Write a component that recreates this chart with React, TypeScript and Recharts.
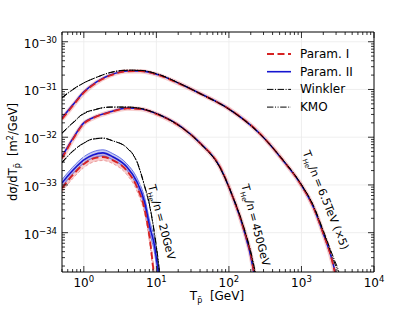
import React from "react";
import { ComposedChart, Line, Area, XAxis, YAxis, ReferenceLine } from "recharts";

// T_He/n = 20 GeV
const t20 = [0.5, 0.7, 1, 1.33, 1.83, 2.5, 3.9, 5.4, 6.9, 8.1, 9.5, 10.5, 11.5];
const paramI20 = [8.5e-34, 1.6e-33, 2.75e-33, 3.55e-33, 3.85e-33, 3.3e-33, 2.0e-33, 9.0e-34, 3.0e-34, 7.5e-35, 1.0e-35, 4e-36, 1e-36];
const paramI20Hi = [1.0e-33, 1.9e-33, 3.25e-33, 4.2e-33, 4.55e-33, 3.9e-33, 2.4e-33, 1.08e-33, 3.7e-34, 9.5e-35, 1.4e-35, 5.5e-36, 1.5e-36];
const paramI20Lo = [7.2e-34, 1.35e-33, 2.3e-33, 3.0e-33, 3.25e-33, 2.8e-33, 1.65e-33, 7.4e-34, 2.4e-34, 5.8e-35, 7e-36, 2.8e-36, 7e-37];
const paramII20 = [1.1e-33, 2.0e-33, 3.35e-33, 4.25e-33, 4.7e-33, 3.9e-33, 2.4e-33, 1.16e-33, 4.3e-34, 1.33e-34, 5.0e-35, 1.65e-35, 5e-36];
const paramII20Hi = [1.3e-33, 2.35e-33, 3.9e-33, 4.95e-33, 5.45e-33, 4.55e-33, 2.8e-33, 1.4e-33, 5.4e-34, 1.75e-34, 7e-35, 2.5e-35, 8e-36];
const paramII20Lo = [9.2e-34, 1.7e-33, 2.85e-33, 3.65e-33, 4.05e-33, 3.35e-33, 2.05e-33, 9.5e-34, 3.4e-34, 1.0e-34, 3.5e-35, 1.1e-35, 3e-36];
const winkler20 = [3.0e-33, 5.1e-33, 7.6e-33, 9.2e-33, 9.6e-33, 8.4e-33, 6.0e-33, 3.0e-33, 9.1e-34, 3.5e-34, 8.5e-35, 2.7e-35, 8e-36];
const kmo20 = [2.9e-33, 5.0e-33, 7.5e-33, 9.1e-33, 9.5e-33, 8.4e-33, 6.1e-33, 3.1e-33, 9.5e-34, 3.7e-34, 9e-35, 3e-35, 9e-36];

// T_He/n = 450 GeV
const t450 = [0.5, 0.7, 1, 1.33, 2.3, 4, 6, 11, 23, 40, 75, 113, 156, 214, 240];
const paramI450 = [3.6e-33, 8.8e-33, 1.93e-32, 2.5e-32, 3.35e-32, 4.0e-32, 3.9e-32, 2.9e-32, 1.55e-32, 7.5e-33, 2.4e-33, 5.6e-34, 1.35e-34, 2.0e-35, 6e-36];
const paramII450 = [3.9e-33, 9.2e-33, 2.0e-32, 2.55e-32, 3.4e-32, 4.1e-32, 3.95e-32, 2.95e-32, 1.57e-32, 7.6e-33, 2.4e-33, 5.6e-34, 1.32e-34, 1.9e-35, 6e-36];
const winkler450 = [1.23e-32, 2.0e-32, 3.2e-32, 3.7e-32, 4.3e-32, 4.3e-32, 4.05e-32, 2.95e-32, 1.55e-32, 7.4e-33, 2.3e-33, 5.6e-34, 1.45e-34, 2.4e-35, 1.0e-35];
const kmo450 = [1.2e-32, 1.95e-32, 3.1e-32, 3.65e-32, 4.25e-32, 4.25e-32, 4.0e-32, 2.95e-32, 1.55e-32, 7.5e-33, 2.35e-33, 5.8e-34, 1.5e-34, 2.6e-35, 1.1e-35];

// T_He/n = 6.5 TeV (x5)
const t65 = [0.5, 0.7, 1, 1.5, 2.3, 4, 6, 11, 20, 40, 100, 270, 550, 950, 1450, 1980, 2640, 2900, 3200, 3600];
const paramI65 = [2.4e-32, 4.5e-32, 8.6e-32, 1.4e-31, 1.96e-31, 2.4e-31, 2.42e-31, 1.98e-31, 1.36e-31, 8.2e-32, 3.9e-32, 1.17e-32, 3.35e-33, 1.1e-33, 3.5e-34, 1.0e-34, 2.6e-35, 1.4e-35, 5e-36, 2e-36];
const paramII65 = [2.54e-32, 4.7e-32, 8.9e-32, 1.44e-31, 2.0e-31, 2.44e-31, 2.45e-31, 2.0e-31, 1.37e-31, 8.25e-32, 3.9e-32, 1.17e-32, 3.35e-33, 1.11e-33, 3.5e-34, 1.0e-34, 2.7e-35, 1.5e-35, 6e-36, 2e-36];
const winkler65 = [6.6e-32, 9.8e-32, 1.37e-31, 1.8e-31, 2.27e-31, 2.55e-31, 2.52e-31, 2.05e-31, 1.38e-31, 8.2e-32, 3.85e-32, 1.15e-32, 3.4e-33, 1.15e-33, 3.8e-34, 1.15e-34, 3.6e-35, 2.5e-35, 1.7e-35, 8e-36];
const kmo65 = [6.8e-32, 1.0e-31, 1.38e-31, 1.8e-31, 2.25e-31, 2.52e-31, 2.5e-31, 2.04e-31, 1.38e-31, 8.2e-32, 3.9e-32, 1.16e-32, 3.4e-33, 1.13e-33, 3.7e-34, 1.1e-34, 3.3e-35, 2.2e-35, 1.5e-35, 7e-36];

const xMajor = [1, 10, 100, 1000, 10000];
const xExp = ["0", "1", "2", "3", "4"];
const yMajor = [1e-34, 1e-33, 1e-32, 1e-31, 1e-30];
const yExp = ["\u221234", "\u221233", "\u221232", "\u221231", "\u221230"];

const X_DOMAIN = [0.5, 10000];
const Y_DOMAIN = [1.5e-35, 1.6e-30];

const xMinor: number[] = [];
for (let e = -1; e <= 3; e++)
	for (let k = 2; k <= 9; k++) {
		const v = k * Math.pow(10, e);
		if (v >= X_DOMAIN[0] && v <= X_DOMAIN[1]) xMinor.push(v);
	}
const yMinor: number[] = [];
for (let e = -35; e <= -31; e++)
	for (let k = 2; k <= 9; k++) {
		const v = k * Math.pow(10, e);
		if (v >= Y_DOMAIN[0] && v <= Y_DOMAIN[1]) yMinor.push(v);
	}
const xTicks = [...xMajor, ...xMinor].sort((a, b) => a - b);
const yTicks = [...yMajor, ...yMinor].sort((a, b) => a - b);

const pts = (t: number[], v: number[]) => t.map((x, i) => ({ t: x, v: v[i] }));
const band = (t: number[], lo: number[], hi: number[]) =>
	t.map((x, i) => ({ t: x, lo: lo[i], hi: hi[i] }));

const FONT = "DejaVu Sans, sans-serif";
const RED = "#d62222";
const BLUE = "#1515d0";
const DASH = "7 3.5";
const DASHDOT = "6.4 1.6 1 1.6";
const DASHDOTDOT = "6.4 1.6 1 1.6 1 1.6";

const BottomTick = (p: any) => {
	const { x, y, payload } = p;
	const i = xMajor.indexOf(payload.value);
	const len = i >= 0 ? 6 : 3;
	return (
		<g>
			<line x1={x} x2={x} y1={y} y2={y - len} stroke="#000" strokeWidth={0.8} />
			{i >= 0 ? (
				<text x={x} y={y + 15} textAnchor="middle" fontSize={12} fontFamily={FONT} fill="#000">
					10<tspan dy={-5} fontSize={8.5}>{xExp[i]}</tspan>
				</text>
			) : null}
		</g>
	);
};

const TopTick = (p: any) => {
	const { x, y, payload } = p;
	const len = xMajor.includes(payload.value) ? 6 : 3;
	return <line x1={x} x2={x} y1={y} y2={y + len} stroke="#000" strokeWidth={0.8} />;
};

const LeftTick = (p: any) => {
	const { x, y, payload } = p;
	const i = yMajor.indexOf(payload.value);
	const len = i >= 0 ? 6 : 3;
	return (
		<g>
			<line x1={x} x2={x + len} y1={y} y2={y} stroke="#000" strokeWidth={0.8} />
			{i >= 0 ? (
				<text x={x - 5} y={y + 6} textAnchor="end" fontSize={12} fontFamily={FONT} fill="#000">
					10<tspan dy={-5} fontSize={8.5}>{yExp[i]}</tspan>
				</text>
			) : null}
		</g>
	);
};

const RightTick = (p: any) => {
	const { x, y, payload } = p;
	const len = yMajor.includes(payload.value) ? 6 : 3;
	return <line x1={x} x2={x - len} y1={y} y2={y} stroke="#000" strokeWidth={0.8} />;
};

const ax = { xAxisId: "b", yAxisId: "l" };

const Annotation = ({ cx, cy, angle, text }: { cx: number; cy: number; angle: number; text: string }) => (
	<g transform={`translate(${cx},${cy}) rotate(${angle})`}>
		<text x={0} y={4} textAnchor="middle" fontSize={11} fontFamily={FONT} fill="#000">
			T<tspan dy={3} fontSize={7}>He</tspan>
			<tspan dy={-3}>{text}</tspan>
		</text>
	</g>
);

const legendItems = [
	{ label: "Param. I", stroke: RED, dash: DASH, width: 1.8 },
	{ label: "Param. II", stroke: BLUE, dash: undefined, width: 1.6 },
	{ label: "Winkler", stroke: "#000", dash: DASHDOT, width: 1 },
	{ label: "KMO", stroke: "#000", dash: DASHDOTDOT, width: 1 },
];

export default function App() {
	return (
		<div style={{ position: "absolute", left: 0, top: 0, width: 415, height: 320, background: "#fff" }}>
			<ComposedChart width={415} height={320} margin={{ top: 28, right: 37, bottom: 18, left: 10 }}>
				<XAxis
					xAxisId="b"
					type="number"
					dataKey="t"
					scale="log"
					domain={X_DOMAIN}
					allowDataOverflow
					ticks={xTicks}
					interval={0}
					tick={BottomTick}
					tickLine={false}
					tickSize={0}
					tickMargin={0}
					axisLine={{ stroke: "#000" }}
					height={30}
				/>
				<XAxis
					xAxisId="t"
					orientation="top"
					type="number"
					dataKey="t"
					scale="log"
					domain={X_DOMAIN}
					allowDataOverflow
					ticks={xTicks}
					interval={0}
					tick={TopTick}
					tickLine={false}
					tickSize={0}
					tickMargin={0}
					axisLine={{ stroke: "#000" }}
					height={4}
				/>
				<YAxis
					yAxisId="l"
					type="number"
					scale="log"
					domain={Y_DOMAIN}
					allowDataOverflow
					ticks={yTicks}
					interval={0}
					tick={LeftTick}
					tickLine={false}
					tickSize={0}
					tickMargin={0}
					axisLine={{ stroke: "#000" }}
					width={52}
				/>
				<YAxis
					yAxisId="r"
					orientation="right"
					type="number"
					scale="log"
					domain={Y_DOMAIN}
					allowDataOverflow
					ticks={yTicks}
					interval={0}
					tick={RightTick}
					tickLine={false}
					tickSize={0}
					tickMargin={0}
					axisLine={{ stroke: "#000" }}
					width={4}
				/>
				{xMajor.slice(0, 4).map((v) => (
					<ReferenceLine key={"gx" + v} x={v} {...ax} stroke="#ebebeb" strokeWidth={0.8} />
				))}
				{yMajor.map((v) => (
					<ReferenceLine key={"gy" + v} y={v} {...ax} stroke="#ebebeb" strokeWidth={0.8} />
				))}

				{/* uncertainty bands, 20 GeV */}
				<Area {...ax} data={band(t20, paramI20Lo, paramI20Hi)} dataKey={(d: any) => [d.lo, d.hi]} type="monotone" stroke="#e07070" strokeWidth={0.6} strokeDasharray="3 2" fill="#f2a0a0" fillOpacity={0.55} isAnimationActive={false} />
				<Area {...ax} data={band(t20, paramII20Lo, paramII20Hi)} dataKey={(d: any) => [d.lo, d.hi]} type="monotone" stroke="#3344dd" strokeWidth={0.7} fill="#8c96ea" fillOpacity={0.5} isAnimationActive={false} />

				{/* soft bands for the higher energies */}
				<Line {...ax} data={pts(t450, paramI450)} dataKey="v" type="monotone" stroke="#e57373" strokeOpacity={0.35} strokeWidth={4.5} dot={false} isAnimationActive={false} />
				<Line {...ax} data={pts(t65, paramI65)} dataKey="v" type="monotone" stroke="#e57373" strokeOpacity={0.35} strokeWidth={4.5} dot={false} isAnimationActive={false} />

				{/* Param. II */}
				<Line {...ax} data={pts(t20, paramII20)} dataKey="v" type="monotone" stroke={BLUE} strokeWidth={1.6} dot={false} isAnimationActive={false} />
				<Line {...ax} data={pts(t450, paramII450)} dataKey="v" type="monotone" stroke={BLUE} strokeWidth={1.6} dot={false} isAnimationActive={false} />
				<Line {...ax} data={pts(t65, paramII65)} dataKey="v" type="monotone" stroke={BLUE} strokeWidth={1.6} dot={false} isAnimationActive={false} />

				{/* Param. I */}
				<Line {...ax} data={pts(t20, paramI20)} dataKey="v" type="monotone" stroke={RED} strokeWidth={1.8} strokeDasharray={DASH} dot={false} isAnimationActive={false} />
				<Line {...ax} data={pts(t450, paramI450)} dataKey="v" type="monotone" stroke={RED} strokeWidth={1.8} strokeDasharray={DASH} dot={false} isAnimationActive={false} />
				<Line {...ax} data={pts(t65, paramI65)} dataKey="v" type="monotone" stroke={RED} strokeWidth={1.8} strokeDasharray={DASH} dot={false} isAnimationActive={false} />

				{/* Winkler */}
				<Line {...ax} data={pts(t20, winkler20)} dataKey="v" type="monotone" stroke="#000" strokeWidth={1} strokeDasharray={DASHDOT} dot={false} isAnimationActive={false} />
				<Line {...ax} data={pts(t450, winkler450)} dataKey="v" type="monotone" stroke="#000" strokeWidth={1} strokeDasharray={DASHDOT} dot={false} isAnimationActive={false} />
				<Line {...ax} data={pts(t65, winkler65)} dataKey="v" type="monotone" stroke="#000" strokeWidth={1} strokeDasharray={DASHDOT} dot={false} isAnimationActive={false} />

				{/* KMO */}
				<Line {...ax} data={pts(t20, kmo20)} dataKey="v" type="monotone" stroke="#000" strokeWidth={1} strokeDasharray={DASHDOTDOT} dot={false} isAnimationActive={false} />
				<Line {...ax} data={pts(t450, kmo450)} dataKey="v" type="monotone" stroke="#000" strokeWidth={1} strokeDasharray={DASHDOTDOT} dot={false} isAnimationActive={false} />
				<Line {...ax} data={pts(t65, kmo65)} dataKey="v" type="monotone" stroke="#000" strokeWidth={1} strokeDasharray={DASHDOTDOT} dot={false} isAnimationActive={false} />
			</ComposedChart>

			<svg width={415} height={320} style={{ position: "absolute", left: 0, top: 0, pointerEvents: "none" }}>
				{/* axis titles */}
				<g transform="translate(13,152) rotate(-90)">
					<text x={0} y={4} textAnchor="middle" fontSize={11.5} fontFamily={FONT} fill="#000" style={{ whiteSpace: "pre" }}>
						d{"\u03c3"}/dT<tspan dy={3} fontSize={8}>p{"\u0304"}</tspan>
						<tspan dy={-3}>{"\u00a0\u00a0[m"}</tspan>
						<tspan dy={-4} fontSize={8}>2</tspan>
						<tspan dy={4}>/GeV]</tspan>
					</text>
				</g>
				<text x={217} y={300} textAnchor="middle" fontSize={12} fontFamily={FONT} fill="#000">
					T<tspan dy={3} fontSize={8}>p{"\u0304"}</tspan>
					<tspan dy={-3}>{"\u00a0\u00a0[GeV]"}</tspan>
				</text>

				{/* legend */}
				{legendItems.map((it, i) => {
					const y = 54 + i * 17.7;
					return (
						<g key={it.label}>
							<line x1={267} x2={291} y1={y} y2={y} stroke={it.stroke} strokeWidth={it.width} strokeDasharray={it.dash} />
							<text x={300} y={y + 4} fontSize={12} fontFamily={FONT} fill="#000">
								{it.label}
							</text>
						</g>
					);
				})}

				{/* curve annotations */}
				<Annotation cx={162} cy={222} angle={75} text={"/n\u2009=\u200920GeV"} />
				<Annotation cx={256} cy={225} angle={75} text={"/n\u2009=\u2009450GeV"} />
				<Annotation cx={326} cy={200} angle={68} text={"/n\u2009=\u20096.5TeV (\u00d75)"} />
			</svg>
		</div>
	);
}
